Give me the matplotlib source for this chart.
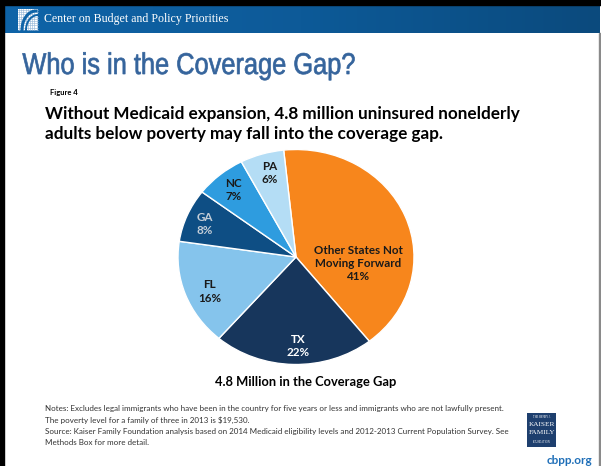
import numpy as np
import matplotlib
matplotlib.use("Agg")
import matplotlib.pyplot as plt
from matplotlib.patches import Rectangle, PathPatch
from matplotlib.colors import LinearSegmentedColormap
from matplotlib.textpath import TextPath
from matplotlib.font_manager import FontProperties
import matplotlib.transforms as mtransforms

# ---- data ----
categories = ["Other States Not\nMoving Forward", "TX", "FL", "GA", "NC", "PA"]
shares = [41, 22, 16, 8, 7, 6]
colors = ["#F7861C", "#17365C", "#85C4EC", "#0E4E84", "#2E9CDF", "#B4DDF5"]
label_colors = ["#1a1a1a", "#ffffff", "#1a1a1a", "#c5ced8", "#1a1a1a", "#1a1a1a"]
# label anchor positions inside the (unit) pie, per slice
label_pos = [(0.53, -0.06), (0.02, -0.83), (-0.73, -0.32), (-0.77, 0.31), (-0.53, 0.62), (-0.22, 0.78)]

W, H = 601, 466
fig = plt.figure(figsize=(W / 100, H / 100), dpi=100)
fig.patch.set_facecolor("white")

def fx(x):
    return x / W

def fy(y):
    return 1 - y / H

# ---- background / slide frame ----
bg = fig.add_axes([0, 0, 1, 1])
bg.set_xlim(0, W)
bg.set_ylim(H, 0)
bg.axis("off")
grad = np.linspace(0, 1, 256).reshape(1, -1)
cm = LinearSegmentedColormap.from_list("hdr", ["#0F64A8", "#0D5A98", "#0B4A7D"])
bg.imshow(grad, extent=(3, 600, 33, 4), cmap=cm, aspect="auto", zorder=1)
bg.add_patch(Rectangle((0, 0), W, 4.5, color="black", zorder=3))
bg.add_patch(Rectangle((0, 0), 3.5, H, color="black", zorder=3))
bg.add_patch(Rectangle((598.5, 33), 2.5, H, color="#8a8a8a", zorder=3))
# CBPP logo
bg.add_patch(Rectangle((18, 9), 20, 21, facecolor="white", edgecolor="none", zorder=4))
for gx in np.arange(19, 38, 2.2):
    bg.plot([gx, gx], [9, 30], color="#8fb3d6", lw=0.4, zorder=5)
for gy in np.arange(10, 30, 2.2):
    bg.plot([18, 38], [gy, gy], color="#8fb3d6", lw=0.4, zorder=5)
ang = np.linspace(np.pi, np.pi / 2, 40)
bg.plot(36 + 14 * np.cos(ang), 30 - 19 * np.sin(ang), color="#0F64A8", lw=2.2, zorder=6)
bg.plot(38 + 12 * np.cos(ang), 30 - 15 * np.sin(ang), color="#0F64A8", lw=1.4, zorder=6)

fig.text(fx(44), fy(19), "Center on Budget and Policy Priorities", color="white",
         family="Liberation Serif", fontsize=8.6, va="center", ha="left")

# ---- titles ----
title = "Who is in the Coverage Gap?"
tp = TextPath((0, 0), title, size=30, prop=FontProperties(family="Liberation Sans"))
ext = tp.get_extents()
sx = 332.0 / ext.width
tr = mtransforms.Affine2D().translate(-ext.x0, 0).scale(sx, -1).translate(22.5, 74) + bg.transData
bg.add_patch(PathPatch(tp, facecolor="#35649C", edgecolor="#35649C", lw=0.5, transform=tr, zorder=5))

fig.text(fx(50), fy(92), "Figure 4", color="black", family="Lato", fontweight="bold",
         fontsize=5.5, va="center", ha="left")
fig.text(fx(45), fy(114), "Without Medicaid expansion, 4.8 million uninsured nonelderly",
         color="black", family="Lato", fontweight="bold", fontsize=12.3, va="center", ha="left")
fig.text(fx(45), fy(134), "adults below poverty may fall into the coverage gap.",
         color="black", family="Lato", fontweight="bold", fontsize=12.3, va="center", ha="left")

# ---- pie ----
cx, cy, rx, ry = 296, 257, 118, 107.5
ax = fig.add_axes([fx(cx - rx), fy(cy + ry), 2 * rx / W, 2 * ry / H])
wedges, _ = ax.pie(shares, colors=colors, startangle=96, counterclock=False, radius=1,
                   wedgeprops=dict(edgecolor="white", linewidth=1.0))
ax.set_aspect("auto")
ax.set_xlim(-1, 1)
ax.set_ylim(-1, 1)
for cat, val, (px, py), lc in zip(categories, shares, label_pos, label_colors):
    ax.text(px, py, f"{cat}\n{val}%", ha="center", va="center", color=lc,
            family="Lato", fontweight="bold", fontsize=8.4, linespacing=1.25)

fig.text(fx(306), fy(382), "4.8 Million in the Coverage Gap", color="black", family="Lato",
         fontweight="bold", fontsize=9.3, ha="center", va="center")

# ---- notes ----
notes = ["Notes: Excludes legal immigrants who have been in the country for five years or less and immigrants who are not lawfully present.",
         "The poverty level for a family of three in 2013 is $19,530.",
         "Source: Kaiser Family Foundation analysis based on 2014 Medicaid eligibility levels and 2012-2013 Current Population Survey. See",
         "Methods Box for more detail."]
for i, line in enumerate(notes):
    fig.text(fx(45), fy(409 + 11.3 * i), line, color="#333333", family="Lato",
             fontsize=5.8, ha="left", va="center")

# Kaiser logo
bg.add_patch(Rectangle((527, 413), 29, 34, facecolor="#1E3F6E", edgecolor="none", zorder=4))
bg.text(541.5, 416.5, "THE HENRY J.", color="white", fontsize=2, ha="center", va="center",
        family="Liberation Serif", zorder=5)
bg.text(541.5, 424, "KAISER", color="white", fontsize=5.2, ha="center", va="center",
        family="Liberation Serif", zorder=5)
bg.text(541.5, 432.5, "FAMILY", color="white", fontsize=5.2, ha="center", va="center",
        family="Liberation Serif", zorder=5)
bg.text(541.5, 442, "FOUNDATION", color="white", fontsize=2, ha="center", va="center",
        family="Liberation Serif", zorder=5)

fig.text(fx(592), fy(460), "cbpp.org", color="#1F6FB8", family="Lato", fontweight="bold",
         fontsize=8.5, ha="right", va="center")

fig.savefig("out.png", dpi=100)
